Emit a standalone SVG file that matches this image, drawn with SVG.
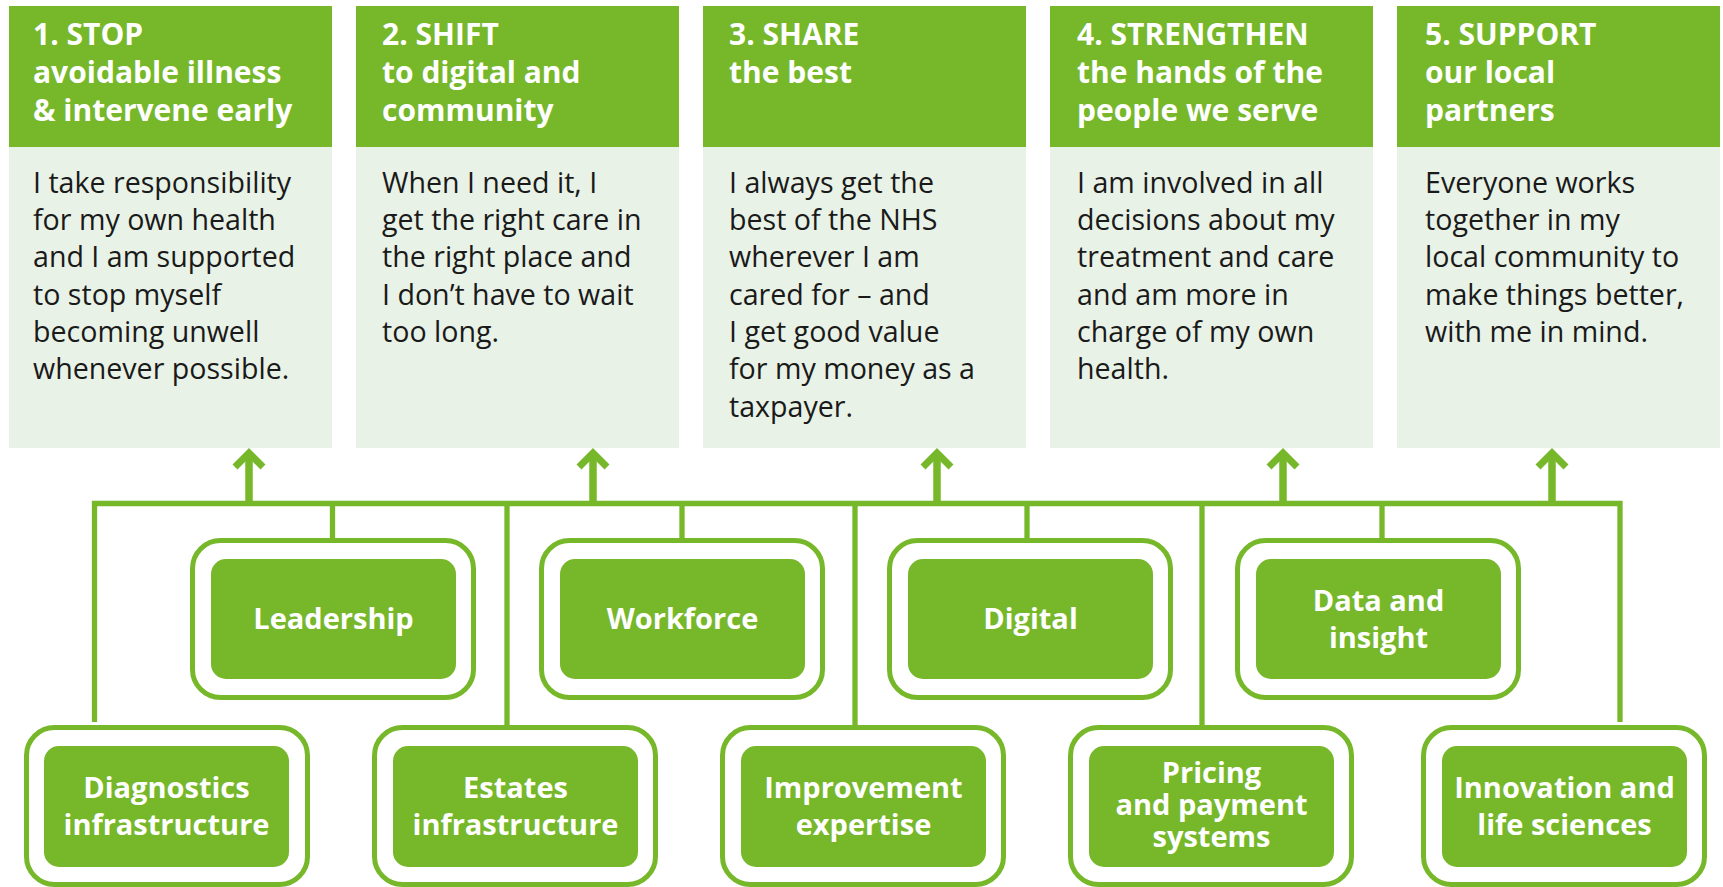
<svg xmlns="http://www.w3.org/2000/svg" width="1723" height="887" viewBox="0 0 1723 887">
<defs>
<style>
.hdr{fill:#76b82a}
.body{fill:#e8f2e6}
.ht{font-family:"Open Sans","Liberation Sans",sans-serif;font-weight:700;font-size:30px;fill:#ffffff}
.bt{font-family:"Open Sans","Liberation Sans",sans-serif;font-weight:400;font-size:28.6px;fill:#1a1a1a}
.outer{fill:#ffffff;stroke:#76b82a;stroke-width:5}
.inner{fill:#76b82a}
.lt{font-family:"Open Sans","Liberation Sans",sans-serif;font-weight:700;font-size:29px;fill:#ffffff;text-anchor:middle}
.ln{fill:none;stroke:#76b82a;stroke-width:5.3}
.shaft{fill:none;stroke:#76b82a;stroke-width:7.5}
.head{fill:none;stroke:#76b82a;stroke-width:7;stroke-linejoin:miter;stroke-miterlimit:10}
</style>
</defs>
<rect width="1723" height="887" fill="#ffffff"/>

<g id="goal1">
<rect class="hdr" x="9" y="6" width="323" height="141"/>
<rect class="body" x="9" y="147" width="323" height="301"/>
<text class="ht"><tspan x="33" y="45">1. STOP</tspan><tspan x="33" y="83">avoidable illness</tspan><tspan x="33" y="121">&amp; intervene early</tspan></text>
<text class="bt"><tspan x="33" y="193">I take responsibility</tspan><tspan x="33" y="230">for my own health</tspan><tspan x="33" y="267">and I am supported</tspan><tspan x="33" y="305">to stop myself</tspan><tspan x="33" y="342">becoming unwell</tspan><tspan x="33" y="379">whenever possible.</tspan></text>
</g>

<g id="goal2">
<rect class="hdr" x="356" y="6" width="323" height="141"/>
<rect class="body" x="356" y="147" width="323" height="301"/>
<text class="ht"><tspan x="382" y="45">2. SHIFT</tspan><tspan x="382" y="83">to digital and</tspan><tspan x="382" y="121">community</tspan></text>
<text class="bt"><tspan x="382" y="193">When I need it, I</tspan><tspan x="382" y="230">get the right care in</tspan><tspan x="382" y="267">the right place and</tspan><tspan x="382" y="305">I don’t have to wait</tspan><tspan x="382" y="342">too long.</tspan></text>
</g>

<g id="goal3">
<rect class="hdr" x="703" y="6" width="323" height="141"/>
<rect class="body" x="703" y="147" width="323" height="301"/>
<text class="ht"><tspan x="729" y="45">3. SHARE</tspan><tspan x="729" y="83">the best</tspan></text>
<text class="bt"><tspan x="729" y="193">I always get the</tspan><tspan x="729" y="230">best of the NHS</tspan><tspan x="729" y="267">wherever I am</tspan><tspan x="729" y="305">cared for – and</tspan><tspan x="729" y="342">I get good value</tspan><tspan x="729" y="379">for my money as a</tspan><tspan x="729" y="417">taxpayer.</tspan></text>
</g>

<g id="goal4">
<rect class="hdr" x="1050" y="6" width="323" height="141"/>
<rect class="body" x="1050" y="147" width="323" height="301"/>
<text class="ht"><tspan x="1077" y="45">4. STRENGTHEN</tspan><tspan x="1077" y="83">the hands of the</tspan><tspan x="1077" y="121">people we serve</tspan></text>
<text class="bt"><tspan x="1077" y="193">I am involved in all</tspan><tspan x="1077" y="230">decisions about my</tspan><tspan x="1077" y="267">treatment and care</tspan><tspan x="1077" y="305">and am more in</tspan><tspan x="1077" y="342">charge of my own</tspan><tspan x="1077" y="379">health.</tspan></text>
</g>

<g id="goal5">
<rect class="hdr" x="1397" y="6" width="323" height="141"/>
<rect class="body" x="1397" y="147" width="323" height="301"/>
<text class="ht"><tspan x="1425" y="45">5. SUPPORT</tspan><tspan x="1425" y="83">our local</tspan><tspan x="1425" y="121">partners</tspan></text>
<text class="bt"><tspan x="1425" y="193">Everyone works</tspan><tspan x="1425" y="230">together in my</tspan><tspan x="1425" y="267">local community to</tspan><tspan x="1425" y="305">make things better,</tspan><tspan x="1425" y="342">with me in mind.</tspan></text>
</g>

<g id="connectors">
<polyline class="ln" points="94.5,722 94.5,503.5 1620,503.5 1620,722"/>
<line class="ln" x1="332.5" y1="503" x2="332.5" y2="540"/>
<line class="ln" x1="507" y1="503" x2="507" y2="727"/>
<line class="ln" x1="682" y1="503" x2="682" y2="540"/>
<line class="ln" x1="855" y1="503" x2="855" y2="727"/>
<line class="ln" x1="1027" y1="503" x2="1027" y2="540"/>
<line class="ln" x1="1202" y1="503" x2="1202" y2="727"/>
<line class="ln" x1="1382" y1="503" x2="1382" y2="540"/>
<g id="arrow1"><line class="shaft" x1="249" y1="454" x2="249" y2="503"/><polyline class="head" points="235,467 249,453 263,467"/></g>
<g id="arrow2"><line class="shaft" x1="593" y1="454" x2="593" y2="503"/><polyline class="head" points="579,467 593,453 607,467"/></g>
<g id="arrow3"><line class="shaft" x1="937" y1="454" x2="937" y2="503"/><polyline class="head" points="923,467 937,453 951,467"/></g>
<g id="arrow4"><line class="shaft" x1="1283" y1="454" x2="1283" y2="503"/><polyline class="head" points="1269,467 1283,453 1297,467"/></g>
<g id="arrow5"><line class="shaft" x1="1552" y1="454" x2="1552" y2="503"/><polyline class="head" points="1538,467 1552,453 1566,467"/></g>
</g>

<g id="leadership">
<rect class="outer" x="192.5" y="540.5" width="281" height="157" rx="28"/>
<rect class="inner" x="211" y="559" width="245" height="120" rx="15"/>
<text class="lt" x="333.5" y="629">Leadership</text>
</g>
<g id="workforce">
<rect class="outer" x="541.5" y="540.5" width="281" height="157" rx="28"/>
<rect class="inner" x="560" y="559" width="245" height="120" rx="15"/>
<text class="lt" x="682.5" y="629">Workforce</text>
</g>
<g id="digital">
<rect class="outer" x="889.5" y="540.5" width="281" height="157" rx="28"/>
<rect class="inner" x="908" y="559" width="245" height="120" rx="15"/>
<text class="lt" x="1030.5" y="629">Digital</text>
</g>
<g id="data">
<rect class="outer" x="1237.5" y="540.5" width="281" height="157" rx="28"/>
<rect class="inner" x="1256" y="559" width="245" height="120" rx="15"/>
<text class="lt" x="1378.5" y="610.5">Data and</text>
<text class="lt" x="1378.5" y="647.5">insight</text>
</g>

<g id="diagnostics">
<rect class="outer" x="26.5" y="727.5" width="281" height="157" rx="28"/>
<rect class="inner" x="44" y="746" width="245" height="121" rx="15"/>
<text class="lt" x="166.5" y="798">Diagnostics</text>
<text class="lt" x="166.5" y="835">infrastructure</text>
</g>
<g id="estates">
<rect class="outer" x="374.5" y="727.5" width="281" height="157" rx="28"/>
<rect class="inner" x="393" y="746" width="245" height="121" rx="15"/>
<text class="lt" x="515.5" y="798">Estates</text>
<text class="lt" x="515.5" y="835">infrastructure</text>
</g>
<g id="improvement">
<rect class="outer" x="722.5" y="727.5" width="281" height="157" rx="28"/>
<rect class="inner" x="741" y="746" width="245" height="121" rx="15"/>
<text class="lt" x="863.5" y="798">Improvement</text>
<text class="lt" x="863.5" y="835">expertise</text>
</g>
<g id="pricing">
<rect class="outer" x="1070.5" y="727.5" width="281" height="157" rx="28"/>
<rect class="inner" x="1089" y="746" width="245" height="121" rx="15"/>
<text class="lt" x="1211.5" y="783">Pricing</text>
<text class="lt" x="1211.5" y="815">and payment</text>
<text class="lt" x="1211.5" y="847">systems</text>
</g>
<g id="innovation">
<rect class="outer" x="1423.5" y="727.5" width="281" height="157" rx="28"/>
<rect class="inner" x="1442" y="746" width="245" height="121" rx="15"/>
<text class="lt" x="1564.5" y="798">Innovation and</text>
<text class="lt" x="1564.5" y="835">life sciences</text>
</g>
</svg>
